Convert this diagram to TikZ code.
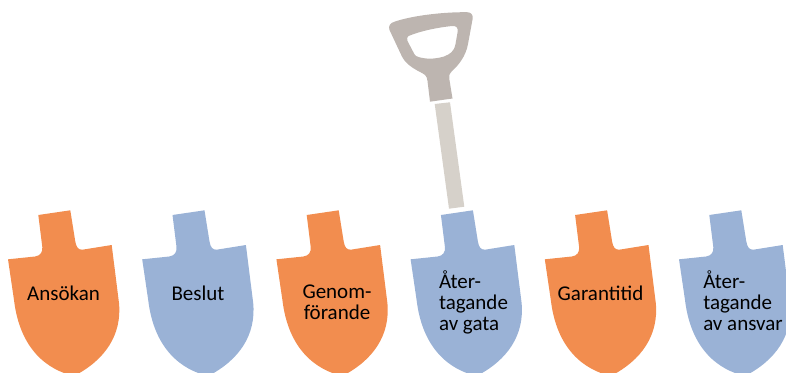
\documentclass[tikz,border=0pt]{standalone}
\usepackage{fontspec}
\setmainfont{Carlito}
\definecolor{orangeblade}{HTML}{F28D4F}
\definecolor{blueblade}{HTML}{9AB2D6}
\definecolor{handlegrey}{HTML}{BDB5B0}
\definecolor{shaftgrey}{HTML}{D6D1CA}
\tikzset{
  bladelabel/.style={font=\fontsize{21}{21}\selectfont, align=center, text=black, inner sep=0pt},
  bladeleft/.style={font=\fontsize{21}{21}\selectfont, align=left, text=black, inner sep=0pt}
}
\newcommand{\bladeshape}[2]{%
  \fill[#2, shift={(#1,0)}] (38.3,215) -- (70.3,210.3) -- (75.3,241.5)
    .. controls (76.3,247.5) and (78.5,250.2) .. (83,249.6)
    -- (111.7,245) -- (119,303)
    .. controls (122,335) and (105,360) .. (74,376)
    .. controls (48,370) and (20,350) .. (14,300)
    -- (8,259.3) -- (35,256.5)
    .. controls (40.5,255.8) and (42.8,252) .. (42.3,247)
    -- cycle;}
\begin{document}
\begin{tikzpicture}[x=1pt,y=-1pt]
\useasboundingbox (0,0) rectangle (786,372);
\clip (0,0) rectangle (786,372);
\bladeshape{0}{orangeblade}
\bladeshape{134.2}{blueblade}
\bladeshape{268.4}{orangeblade}
\bladeshape{402.6}{blueblade}
\bladeshape{536.8}{orangeblade}
\bladeshape{671}{blueblade}
% shaft
\fill[shaftgrey] (434.7,104) -- (450,102.3) -- (464.3,206.7) -- (449,208.7) -- cycle;
% handle
\fill[handlegrey, even odd rule]
  (452.5,98.5) -- (430,101.7) -- (427.5,81)
  .. controls (427,76) and (425,74.5) .. (421,72.5)
  .. controls (412,68) and (405,63) .. (401.7,56)
  -- (389.5,30)
  .. controls (388,26) and (390,23) .. (395,21.5)
  .. controls (415,15) and (445,12) .. (467,12.2)
  .. controls (471.5,12.3) and (473,15) .. (472.7,18.5)
  -- (468,44)
  .. controls (466,56) and (458,66) .. (452,71)
  .. controls (449.5,73) and (449,75) .. (449.3,79)
  -- cycle
  (408.5,36)
  .. controls (422,30.5) and (438,27.5) .. (452,26)
  .. controls (456.5,25.7) and (458,27.5) .. (457.7,31.5)
  -- (455.5,44)
  .. controls (454,52) and (450,54) .. (444,56.5)
  .. controls (434,59.5) and (425,59) .. (418.5,57)
  .. controls (415,56) and (414,54) .. (413,51.5)
  -- (407.5,41)
  .. controls (406.8,38.5) and (407,37) .. (408.5,36)
  -- cycle;
\node[bladelabel] (a) at (63.5,293) {Ansökan};
\node[bladelabel] (b) at (198,293) {Beslut};
\node[bladelabel] (c) at (337,302) {Genom-\\förande};
\node[bladeleft] (d) at (473.5,302) {Åter-\\tagande\\av gata};
\node[bladelabel] (e) at (600.5,293) {Garantitid};
\node[bladeleft] (f) at (743,301) {Åter-\\tagande\\av ansvar};
\end{tikzpicture}
\end{document}
